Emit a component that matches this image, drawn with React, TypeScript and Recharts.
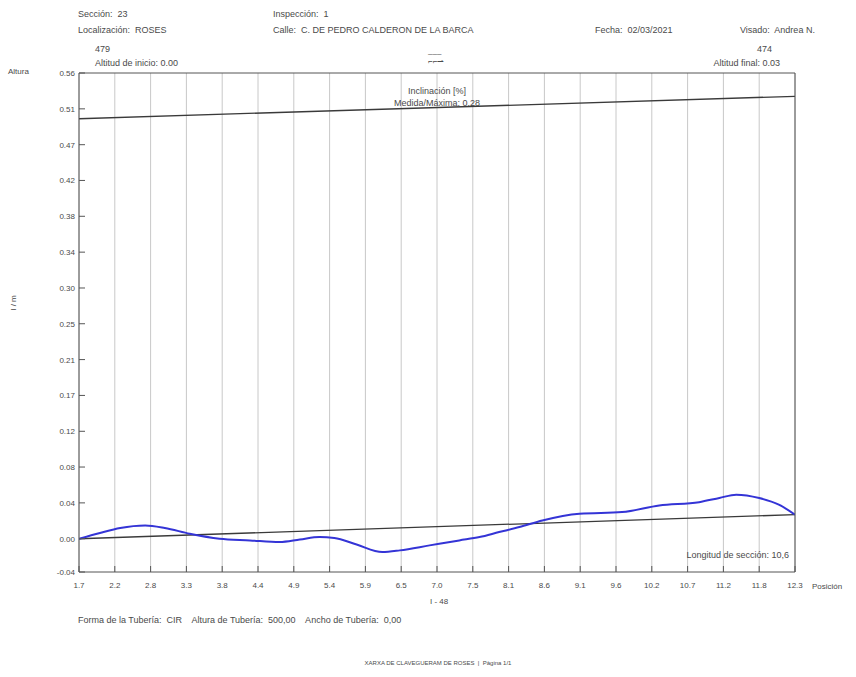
import React from "react";
import {
  ComposedChart,
  Line,
  XAxis,
  YAxis,
  CartesianGrid,
} from "recharts";

// position along the section (m) and the measured profile (m)
const POSITIONS = [
  1.7, 2.01, 2.31, 2.68, 2.97, 3.34, 3.78, 4.23, 4.67, 4.97, 5.26, 5.48, 5.81,
  6.19, 6.45, 6.89, 7.33, 7.63, 7.92, 8.22, 8.56, 9.11, 9.74, 10.29, 10.88,
  11.18, 11.43, 11.77, 12.06, 12.3,
];
const PROFILE = [
  0.0, 0.007, 0.013, 0.016, 0.013, 0.006, 0.0, -0.002, -0.004, -0.001, 0.002,
  0.001, -0.007, -0.016, -0.014, -0.008, -0.002, 0.002, 0.008, 0.014, 0.022,
  0.03, 0.032, 0.04, 0.044, 0.049, 0.053, 0.049, 0.041, 0.029,
];

// straight reference lines (start / end of section)
const ENDS = [1.7, 12.3];
const SLOPE_LINE = [0.0, 0.029];
const TOP_LINE = [0.505, 0.532];

// tick positions and the labels printed under them
const X_TICKS = [
  1.7, 2.23, 2.76, 3.29, 3.82, 4.35, 4.88, 5.41, 5.94, 6.47, 7.0, 7.53, 8.06,
  8.59, 9.12, 9.65, 10.18, 10.71, 11.24, 11.77, 12.3,
];
const X_LABELS = [
  "1.7", "2.2", "2.8", "3.3", "3.8", "4.4", "4.9", "5.4", "5.9", "6.5", "7.0",
  "7.5", "8.1", "8.6", "9.1", "9.6", "10.2", "10.7", "11.2", "11.8", "12.3",
];
const Y_TICKS = [
  -0.04, 0.0, 0.0431, 0.0862, 0.1292, 0.1723, 0.2154, 0.2585, 0.3015, 0.3446,
  0.3877, 0.4308, 0.4738, 0.5169, 0.56,
];
const Y_LABELS = [
  "-0.04", "0.00", "0.04", "0.08", "0.12", "0.17", "0.21", "0.25", "0.30",
  "0.34", "0.38", "0.42", "0.47", "0.51", "0.56",
];

const profileData = POSITIONS.map((x, i) => ({ x, y: PROFILE[i] }));
const slopeData = ENDS.map((x, i) => ({ x, y: SLOPE_LINE[i] }));
const topData = ENDS.map((x, i) => ({ x, y: TOP_LINE[i] }));

const FONT = '"Liberation Sans", Arial, sans-serif';
const TXT = "#4a4a4a";
const AXIS = "#555";

const BottomTick = (props: any) => {
  const { x, y, index } = props;
  return (
    <g>
      <line x1={x} x2={x} y1={y - 6} y2={y - 12} stroke={AXIS} />
      <text x={x} y={y} dy={10} textAnchor="middle" fontSize={8} fill={TXT} fontFamily={FONT}>
        {X_LABELS[index]}
      </text>
    </g>
  );
};

const TopTick = (props: any) => {
  const { x, y } = props;
  return <line x1={x} x2={x} y1={y} y2={y + 6} stroke={AXIS} />;
};

const LeftTick = (props: any) => {
  const { x, y, index } = props;
  return (
    <g>
      <line x1={x + 4} x2={x + 10} y1={y} y2={y} stroke={AXIS} />
      <text x={x} y={y} dy={3} textAnchor="end" fontSize={8} fill={TXT} fontFamily={FONT}>
        {Y_LABELS[index]}
      </text>
    </g>
  );
};

const RightTick = (props: any) => {
  const { x, y } = props;
  return <line x1={x} x2={x - 6} y1={y} y2={y} stroke={AXIS} />;
};

const txt = (style: React.CSSProperties): React.CSSProperties => ({
  position: "absolute",
  fontSize: 9,
  color: TXT,
  whiteSpace: "nowrap",
  lineHeight: "10px",
  ...style,
});

export default function App() {
  return (
    <div
      style={{
        position: "absolute",
        left: 0,
        top: 0,
        width: 856,
        height: 677,
        background: "#fff",
        fontFamily: FONT,
      }}
    >
      <ComposedChart
        width={856}
        height={677}
        margin={{ top: 72, right: 60, bottom: 75, left: 39 }}
        style={{ position: "absolute", left: 0, top: 0 }}
      >
        <CartesianGrid horizontal={false} stroke="#c8c8c8" />
        <XAxis
          type="number"
          dataKey="x"
          domain={[1.7, 12.3]}
          ticks={X_TICKS}
          interval={0}
          height={30}
          tickSize={0}
          tickMargin={6}
          tickLine={false}
          tick={BottomTick}
          stroke={AXIS}
          allowDataOverflow
        />
        <XAxis
          xAxisId="top"
          orientation="top"
          type="number"
          dataKey="x"
          domain={[1.7, 12.3]}
          ticks={X_TICKS}
          interval={0}
          height={1}
          tickSize={0}
          tickMargin={0}
          tickLine={false}
          tick={TopTick}
          stroke={AXIS}
        />
        <YAxis
          type="number"
          domain={[-0.04, 0.56]}
          ticks={Y_TICKS}
          interval={0}
          width={40}
          tickSize={0}
          tickMargin={4}
          tickLine={false}
          tick={LeftTick}
          stroke={AXIS}
          allowDataOverflow
        />
        <YAxis
          yAxisId="right"
          orientation="right"
          type="number"
          domain={[-0.04, 0.56]}
          ticks={Y_TICKS}
          interval={0}
          width={1}
          tickSize={0}
          tickMargin={0}
          tickLine={false}
          tick={RightTick}
          stroke={AXIS}
        />
        <Line
          data={topData}
          dataKey="y"
          type="linear"
          stroke="#3a3a3a"
          strokeWidth={1.3}
          dot={false}
          activeDot={false}
          isAnimationActive={false}
        />
        <Line
          data={slopeData}
          dataKey="y"
          type="linear"
          stroke="#3a3a3a"
          strokeWidth={1.3}
          dot={false}
          activeDot={false}
          isAnimationActive={false}
        />
        <Line
          data={profileData}
          dataKey="y"
          type="monotone"
          stroke="#3434d6"
          strokeWidth={2}
          dot={false}
          activeDot={false}
          isAnimationActive={false}
        />
      </ComposedChart>

      <div style={txt({ left: 78, top: 9 })}>Sección:&nbsp; 23</div>
      <div style={txt({ left: 78, top: 25 })}>Localización:&nbsp; ROSES</div>
      <div style={txt({ left: 273, top: 9 })}>Inspección:&nbsp; 1</div>
      <div style={txt({ left: 273, top: 25 })}>Calle:&nbsp; C. DE PEDRO CALDERON DE LA BARCA</div>
      <div style={txt({ left: 595, top: 25 })}>Fecha:&nbsp; 02/03/2021</div>
      <div style={txt({ left: 740, top: 25 })}>Visado:&nbsp; Andrea N.</div>

      <div style={txt({ left: 95, top: 44 })}>479</div>
      <div style={txt({ left: 95, top: 58 })}>Altitud de inicio: 0.00</div>
      <div style={txt({ right: 84, top: 44 })}>474</div>
      <div style={txt({ right: 76, top: 58 })}>Altitud final: 0.03</div>
      <div style={txt({ left: 428, top: 49, fontSize: 8 })}>‒‒‒</div>
      <div style={txt({ left: 428, top: 57, fontSize: 8 })}>⌐⌐⇀</div>

      <div style={txt({ left: 8, top: 67, fontSize: 8 })}>Altura</div>
      <div style={txt({ left: 6, top: 298, fontSize: 8, transform: "rotate(-90deg)" })}>
        I / m
      </div>

      <div style={txt({ left: 337, top: 86, width: 200, textAlign: "center" })}>Inclinación [%]</div>
      <div style={txt({ left: 337, top: 98, width: 200, textAlign: "center" })}>Medida/Máxima: 0.28</div>
      <div style={txt({ right: 67, top: 550 })}>Longitud de sección: 10,6</div>
      <div style={txt({ left: 812, top: 582, fontSize: 8 })}>Posición</div>
      <div style={txt({ left: 430, top: 597, fontSize: 8 })}>I - 48</div>

      <div style={txt({ left: 78, top: 615 })}>
        Forma de la Tubería:&nbsp; CIR&nbsp;&nbsp;&nbsp; Altura de Tubería:&nbsp; 500,00&nbsp;&nbsp;&nbsp; Ancho de Tubería:&nbsp; 0,00
      </div>
      <div style={txt({ left: 0, width: 876, top: 658, fontSize: 6, textAlign: "center" })}>
        XARXA DE CLAVEGUERAM DE ROSES&nbsp; |&nbsp; Pàgina 1/1
      </div>
    </div>
  );
}
